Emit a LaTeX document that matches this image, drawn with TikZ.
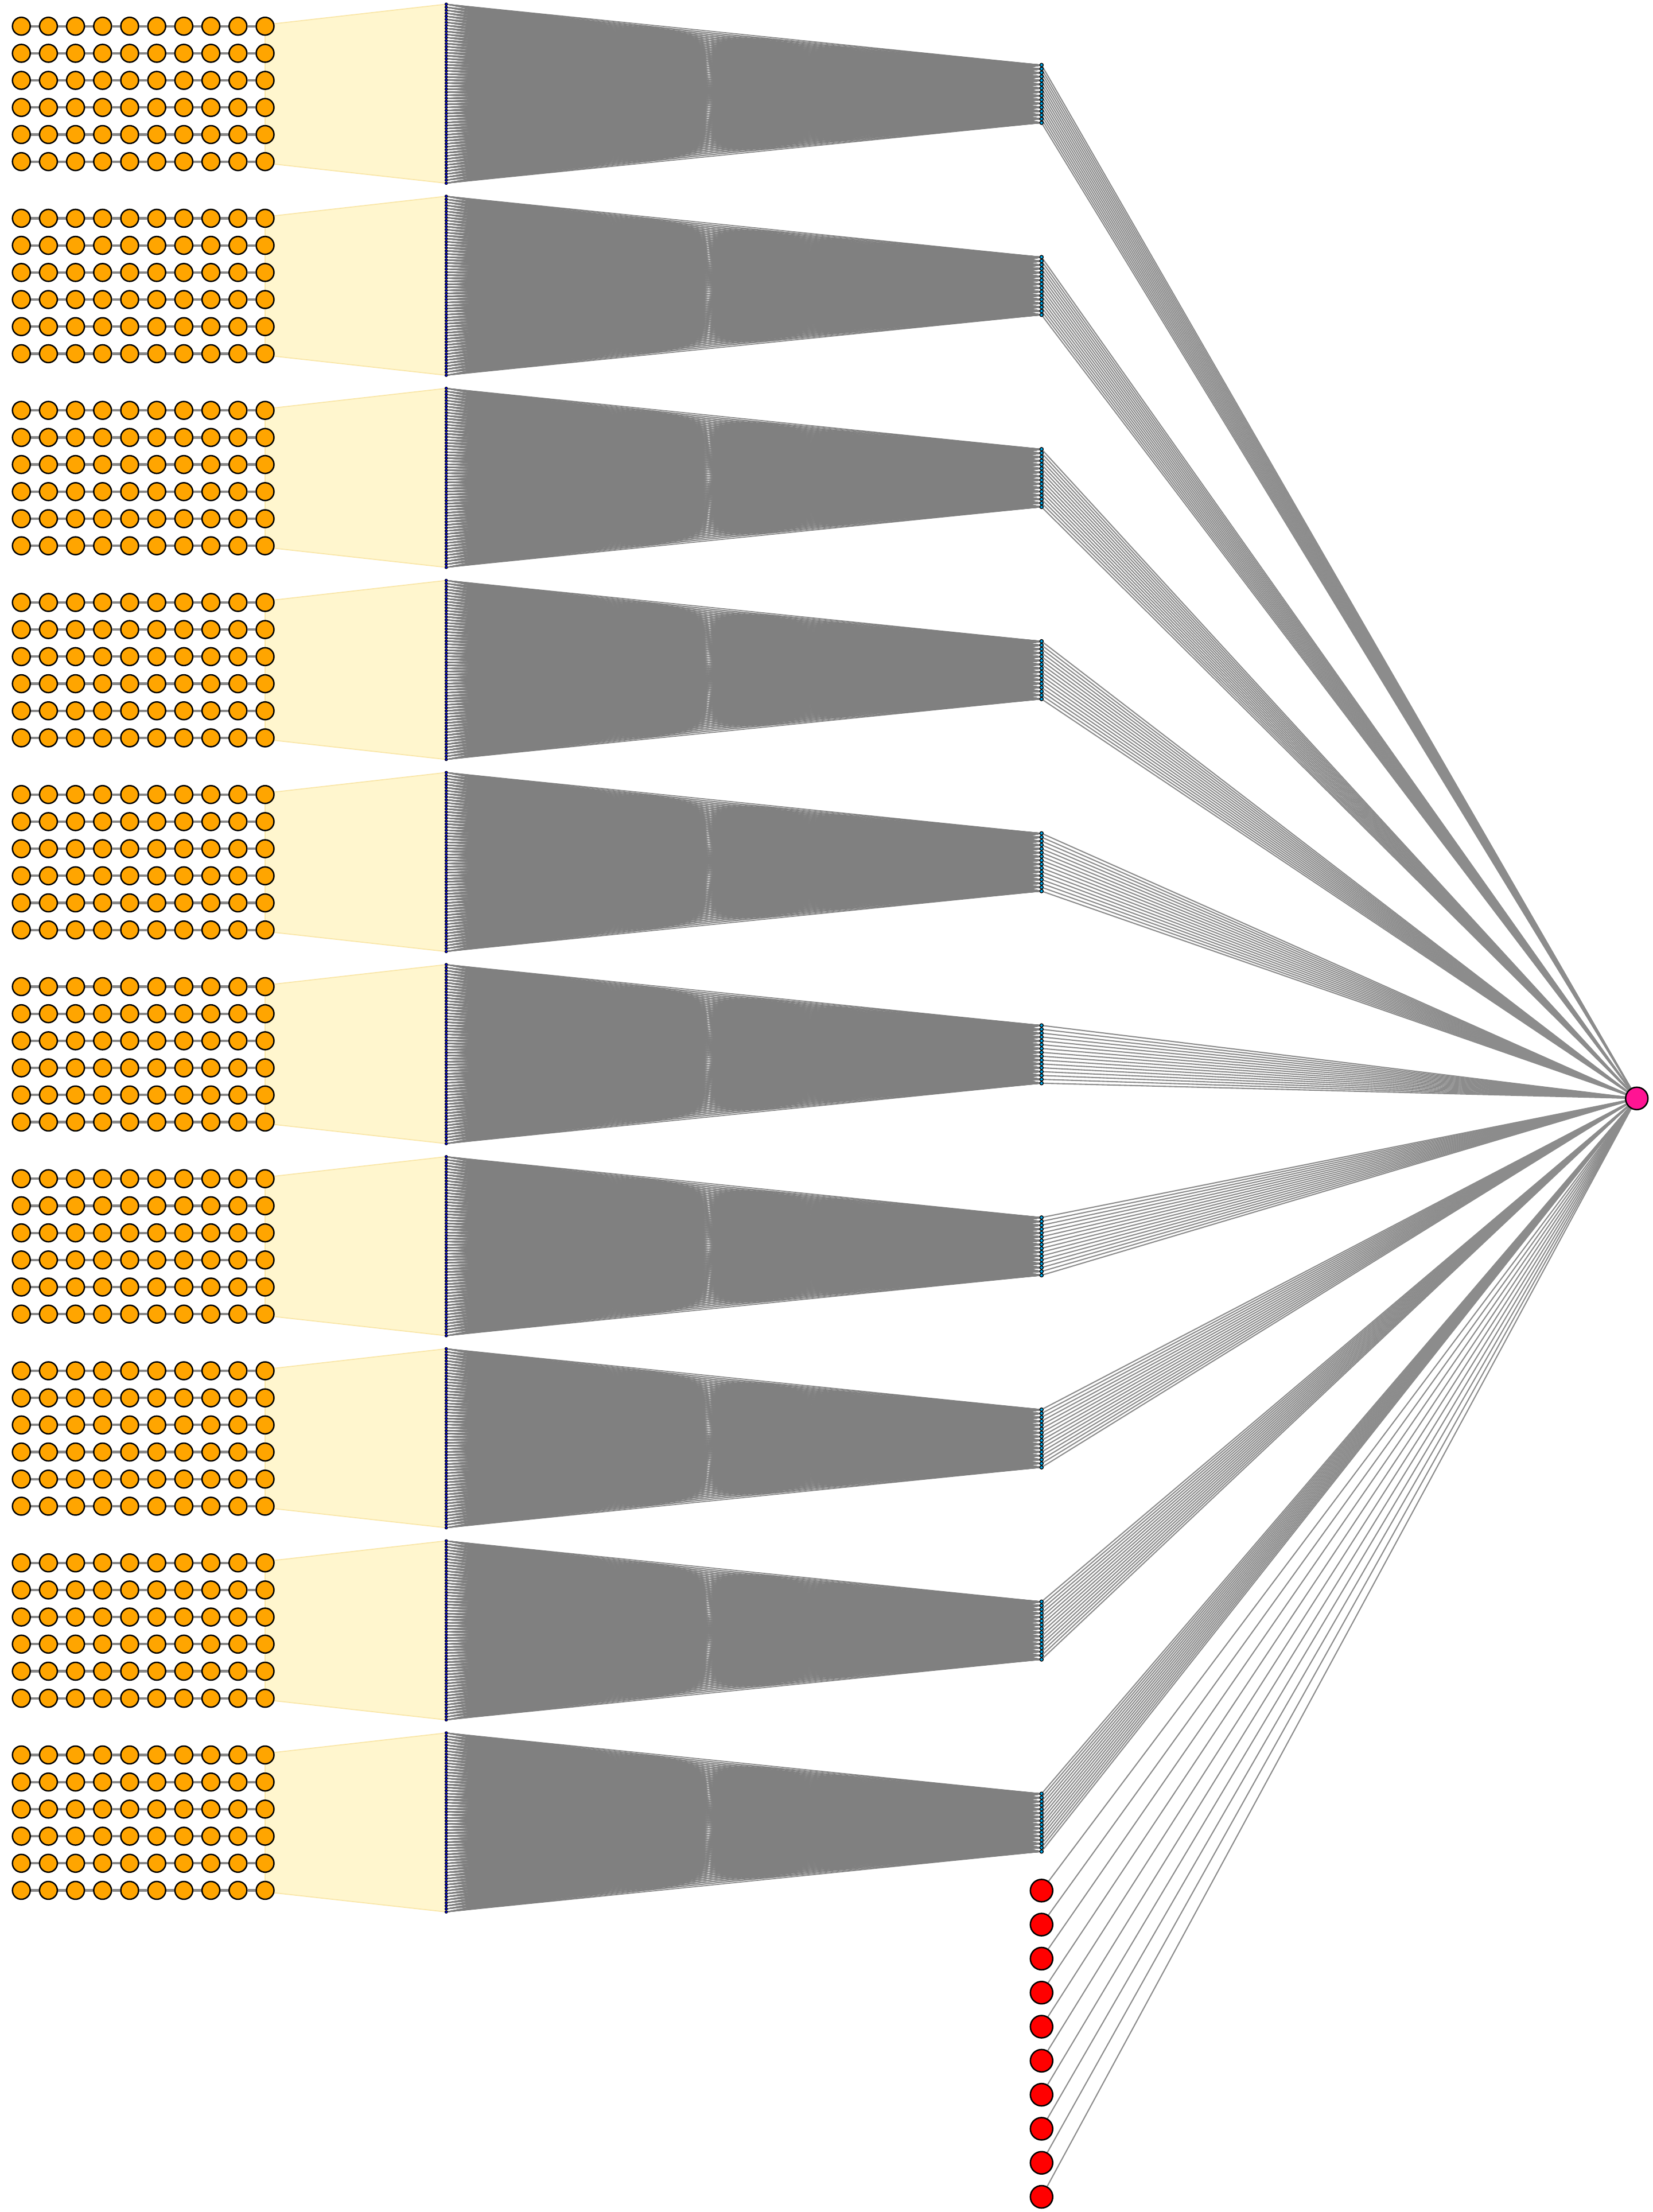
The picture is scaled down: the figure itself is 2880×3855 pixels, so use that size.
\documentclass[tikz,border=0pt]{standalone}
\pgfdeclarelayer{bgtrap}
\pgfdeclarelayer{bg}
\pgfsetlayers{bgtrap,bg,main}
\definecolor{orangenode}{HTML}{FFA500}
\definecolor{trapfill}{HTML}{FFF6CE}
\definecolor{trapdraw}{HTML}{F9E6A8}
\definecolor{pinknode}{HTML}{FF1493}
\definecolor{linkgray}{HTML}{808080}
\definecolor{fangray}{HTML}{8C8C8C}
\definecolor{chaingray}{HTML}{888888}
\tikzset{
  inp/.style={circle, draw=black, line width=0.7pt, fill=orangenode, minimum size=0.31cm, inner sep=0pt},
  flat/.style={circle, draw=black, line width=0.3pt, fill=blue, minimum size=0.045cm, inner sep=0pt},
  hid/.style={circle, draw=black, line width=0.4pt, fill=cyan, minimum size=0.06cm, inner sep=0pt},
  outn/.style={circle, draw=black, line width=0.7pt, fill=pinknode, minimum size=0.39cm, inner sep=0pt},
  extra/.style={circle, draw=black, line width=0.7pt, fill=red, minimum size=0.39cm, inner sep=0pt},
  chain/.style={draw=chaingray, line width=1.2pt},
  dense/.style={draw=linkgray, line width=0.45pt},
  fan/.style={draw=fangray, line width=0.6pt},
  trap/.style={fill=trapfill, draw=trapdraw, line width=0.5pt},
}
\begin{document}
\begin{tikzpicture}[x=0.01cm, y=-0.01cm]
\useasboundingbox (0,0) rectangle (2880,3855);
% nodes
\foreach \k in {0,...,9} {
  \pgfmathsetmacro{\oy}{\k*334.75}
  \foreach \r in {0,...,5} {
    \foreach \c in {0,...,9} {
      \node[inp] (o-\k-\r-\c) at (37.2+47.2*\c, \oy+45.7+47.2*\r) {};
    }
  }
  \foreach \i in {0,...,59} {
    \node[flat] (a-\k-\i) at (777.7, \oy+7.3+5.288*\i) {};
  }
  \foreach \j in {0,...,15} {
    \node[hid] (h-\k-\j) at (1815.3, \oy+113.3+6.713*\j) {};
  }
}
\node[outn] (pink) at (2852.7, 1914.3) {};
\foreach \m in {0,...,9} {
  \node[extra] (r-\m) at (1815.3, 3294.8+59.3*\m) {};
}
% trapezoids
\begin{pgfonlayer}{bgtrap}
\foreach \k in {0,...,9} {
  \path[trap] ([yshift=0.025cm]o-\k-0-9.center) -- (a-\k-0.center) -- (a-\k-59.center) -- ([yshift=-0.025cm]o-\k-5-9.center) -- cycle;
}
\end{pgfonlayer}
% connectors
\begin{pgfonlayer}{bg}
\foreach \k in {0,...,9} {
  \foreach \r in {0,...,5} {
    \foreach \c [evaluate=\c as \n using int(\c+1)] in {0,...,8} {
      \draw[chain] (o-\k-\r-\c) -- (o-\k-\r-\n);
    }
  }
  \foreach \i in {0,...,59} {
    \foreach \j in {0,...,15} {
      \draw[dense] (a-\k-\i) -- (h-\k-\j);
    }
  }
  \foreach \j in {0,...,15} {
    \draw[fan] (h-\k-\j) -- (pink);
  }
}
\foreach \m in {0,...,9} {
  \draw[fan] (r-\m) -- (pink);
}
\end{pgfonlayer}
\end{tikzpicture}
\end{document}
